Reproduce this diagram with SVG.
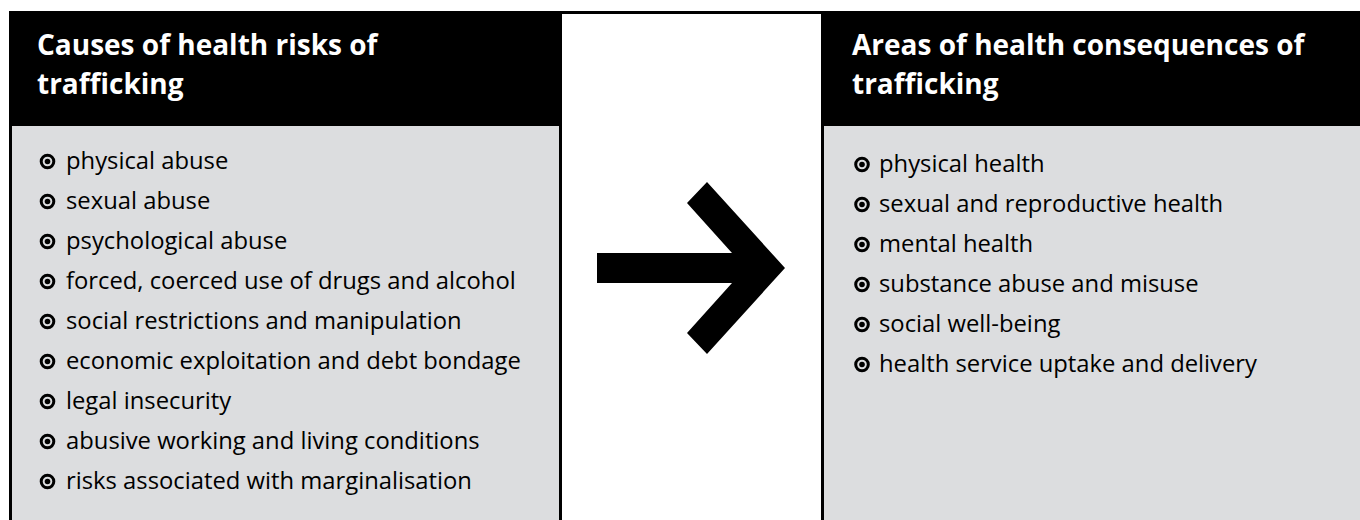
<svg xmlns="http://www.w3.org/2000/svg" width="1360" height="520" viewBox="0 0 1360 520">
<style>
.hd{font-family:"Open Sans","Noto Sans",sans-serif;font-weight:bold;font-size:28px;fill:#fff}
.it{font-family:"Open Sans","Noto Sans",sans-serif;font-size:23.8px;fill:#000}
.ring{fill:none;stroke:#000;stroke-width:3}
.dot{fill:#000}
</style>
<defs>
<g id="bul"><circle class="ring" cx="0" cy="0" r="6.3"/><circle class="dot" cx="0" cy="0" r="2.8"/></g>
</defs>
<rect x="0" y="0" width="1360" height="520" fill="#fff"/>
<rect x="9" y="11" width="1351" height="509" fill="#000"/>
<g id="left-panel">
<rect x="12" y="126" width="547" height="394" fill="#dcdddf"/>
<text class="hd" x="37" y="55">Causes of health risks of</text>
<text class="hd" x="37" y="94">trafficking</text>
<use href="#bul" x="47.5" y="161.5"/><text class="it" x="66" y="169">physical abuse</text>
<use href="#bul" x="47.5" y="201.5"/><text class="it" x="66" y="209">sexual abuse</text>
<use href="#bul" x="47.5" y="241.5"/><text class="it" x="66" y="249">psychological abuse</text>
<use href="#bul" x="47.5" y="281.5"/><text class="it" x="66" y="289">forced, coerced use of drugs and alcohol</text>
<use href="#bul" x="47.5" y="321.5"/><text class="it" x="66" y="329">social restrictions and manipulation</text>
<use href="#bul" x="47.5" y="361.5"/><text class="it" x="66" y="369">economic exploitation and debt bondage</text>
<use href="#bul" x="47.5" y="401.5"/><text class="it" x="66" y="409">legal insecurity</text>
<use href="#bul" x="47.5" y="441.5"/><text class="it" x="66" y="449">abusive working and living conditions</text>
<use href="#bul" x="47.5" y="481.5"/><text class="it" x="66" y="489">risks associated with marginalisation</text>
</g>
<g id="middle">
<rect x="562" y="14" width="259" height="506" fill="#fff"/>
</g>
<g id="connectors">
<polygon points="597,253 732,253 687,203 707,182 785,268 707,354 687,333 732,283 597,283" fill="#000"/>
</g>
<g id="right-panel">
<rect x="824" y="126" width="536" height="394" fill="#dcdddf"/>
<text class="hd" x="852" y="55">Areas of health consequences of</text>
<text class="hd" x="852" y="94">trafficking</text>
<use href="#bul" x="862" y="164.5"/><text class="it" x="879" y="172">physical health</text>
<use href="#bul" x="862" y="204.5"/><text class="it" x="879" y="212">sexual and reproductive health</text>
<use href="#bul" x="862" y="244.5"/><text class="it" x="879" y="252">mental health</text>
<use href="#bul" x="862" y="284.5"/><text class="it" x="879" y="292">substance abuse and misuse</text>
<use href="#bul" x="862" y="324.5"/><text class="it" x="879" y="332">social well-being</text>
<use href="#bul" x="862" y="364.5"/><text class="it" x="879" y="372">health service uptake and delivery</text>
</g>
</svg>
